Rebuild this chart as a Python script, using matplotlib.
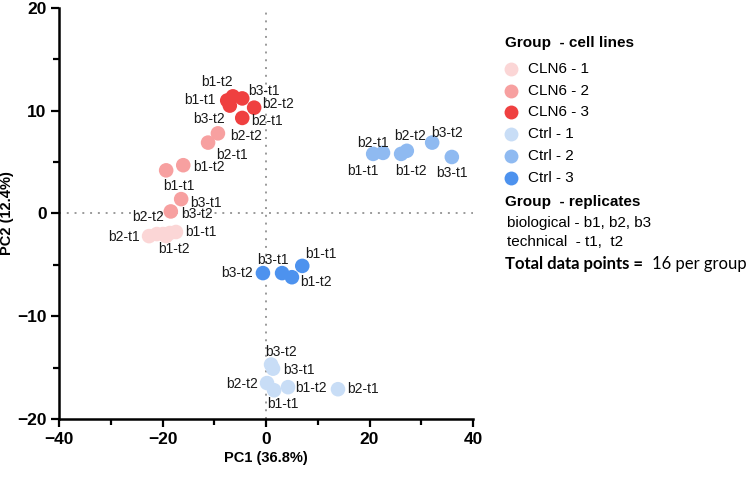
import numpy as np
import matplotlib
matplotlib.use("Agg")
import matplotlib.pyplot as plt
from matplotlib.lines import Line2D
from matplotlib.ticker import MultipleLocator

plt.rcParams['font.family'] = ['Liberation Sans', 'DejaVu Sans']

# group names and colours
groups = ['CLN6 - 1', 'CLN6 - 2', 'CLN6 - 3', 'Ctrl - 1', 'Ctrl - 2', 'Ctrl - 3']
colors = ['#fbd6d6', '#f7a0a0', '#ef4040', '#c8ddf6', '#8fbaf1', '#4d92ee']

# PCA scores (PC1, PC2) with replicate labels
cln6_1_pc1 = [-22.6, -21.1, -19.9, -19.3, -18.6, -17.4]
cln6_1_pc2 = [-2.2, -2.0, -2.0, -2.2, -1.9, -1.8]
cln6_1_lab = ['b2-t1', 'b2-t2', '', '', 'b1-t2', 'b1-t1']

cln6_2_pc1 = [-9.3, -11.2, -16.0, -19.3, -16.4, -18.4]
cln6_2_pc2 = [7.8, 6.9, 4.7, 4.2, 1.4, 0.2]
cln6_2_lab = ['b2-t2', 'b2-t1', 'b1-t2', 'b1-t1', 'b3-t1', 'b3-t2']

cln6_3_pc1 = [-7.5, -6.4, -4.6, -7.0, -2.3, -4.6]
cln6_3_pc2 = [11.0, 11.4, 11.2, 10.5, 10.3, 9.3]
cln6_3_lab = ['b1-t1', 'b1-t2', 'b3-t1', 'b3-t2', 'b2-t2', 'b2-t1']

ctrl_1_pc1 = [0.97, 1.35, 0.19, 1.55, 4.25, 13.9]
ctrl_1_pc2 = [-14.7, -15.1, -16.5, -17.2, -16.9, -17.1]
ctrl_1_lab = ['b3-t2', 'b3-t1', 'b2-t2', 'b1-t1', 'b1-t2', 'b2-t1']

ctrl_2_pc1 = [20.7, 22.6, 26.1, 27.2, 32.1, 35.9]
ctrl_2_pc2 = [5.8, 5.9, 5.8, 6.1, 6.9, 5.5]
ctrl_2_lab = ['b1-t1', 'b2-t1', 'b1-t2', 'b2-t2', 'b3-t2', 'b3-t1']

ctrl_3_pc1 = [-0.6, 3.1, 5.0, 7.0]
ctrl_3_pc2 = [-5.8, -5.8, -6.2, -5.1]
ctrl_3_lab = ['b3-t2', 'b3-t1', 'b1-t2', 'b1-t1']

pc1_all = [cln6_1_pc1, cln6_2_pc1, cln6_3_pc1, ctrl_1_pc1, ctrl_2_pc1, ctrl_3_pc1]
pc2_all = [cln6_1_pc2, cln6_2_pc2, cln6_3_pc2, ctrl_1_pc2, ctrl_2_pc2, ctrl_3_pc2]
lab_all = [cln6_1_lab, cln6_2_lab, cln6_3_lab, ctrl_1_lab, ctrl_2_lab, ctrl_3_lab]

# label placement (pixel offset dx, dy, alignment) for each point
offsets = [
    [(-9, -1, 'right'), (-9, 17, 'center'), None, None, (4, -16, 'center'), (9, 0, 'left')],
    [(12, -3, 'left'), (24, -12, 'center'), (10, -2, 'left'), (13, -16, 'center'), (9, -4, 'left'), (10, -3, 'left')],
    [(-12, 0, 'right'), (-16, 14, 'center'), (6, 7, 'left'), (-5, -13, 'right'), (8, 4, 'left'), (9, -3, 'left')],
    [(10, 13, 'center'), (10, -1, 'left'), (-9, -1, 'right'), (9, -14, 'center'), (7, -1, 'left'), (9, 0, 'left')],
    [(-10, -17, 'center'), (-10, 10, 'center'), (10, -17, 'center'), (3, 15, 'center'), (15, 10, 'center'), (0, -16, 'center')],
    [(-10, 0, 'right'), (-9, 13, 'center'), (8, -5, 'left'), (19, 12, 'center')],
]

fig = plt.figure(figsize=(7.51, 4.78), dpi=100)
ax = fig.add_axes([0.0786, 0.1234, 0.5513, 0.8599])

ax.axhline(0, color='#9a9a9a', lw=1.4, ls=(0, (1, 3)), zorder=1)
ax.axvline(0, color='#9a9a9a', lw=1.4, ls=(0, (1, 3)), zorder=1)

for gi in range(len(groups)):
    ax.scatter(pc1_all[gi], pc2_all[gi], s=110, color=colors[gi], edgecolors='none', zorder=3)
    for j in range(len(pc1_all[gi])):
        if not lab_all[gi][j]:
            continue
        dx, dy, ha = offsets[gi][j]
        ax.annotate(lab_all[gi][j], (pc1_all[gi][j], pc2_all[gi][j]), xytext=(dx, dy),
                    textcoords='offset pixels', ha=ha, va='center', fontsize=10,
                    color='#1a1a1a', zorder=4)

ax.set_xlim(-40, 40)
ax.set_ylim(-20, 20)
ax.xaxis.set_major_locator(MultipleLocator(20))
ax.xaxis.set_minor_locator(MultipleLocator(10))
ax.yaxis.set_major_locator(MultipleLocator(10))
ax.yaxis.set_minor_locator(MultipleLocator(5))
for s in ['top', 'right']:
    ax.spines[s].set_visible(False)
for s in ['left', 'bottom']:
    ax.spines[s].set_linewidth(1.8)
ax.tick_params(which='major', length=6, width=1.6, labelsize=12.5, pad=3)
ax.tick_params(which='minor', length=4, width=1.6)
for t in ax.get_xticklabels() + ax.get_yticklabels():
    t.set_fontweight('bold')

ax.set_xlabel('PC1 (36.8%)', fontsize=10.5, fontweight='bold')
ax.set_ylabel('PC2 (12.4%)', fontsize=10.5, fontweight='bold')
ax.xaxis.set_label_coords(0.5, -0.077)
ax.yaxis.set_label_coords(-0.108, 0.5)

# legend on the right, built by hand
def fx(px):
    return px / 751.0

def fy(py):
    return 1 - py / 478.0

fig.text(fx(505), fy(43), 'Group  - cell lines', fontsize=11, fontweight='bold', va='center')
entry_y = [69, 91, 112, 134, 156, 178]
for gi in range(len(groups)):
    fig.add_artist(Line2D([fx(511)], [fy(entry_y[gi])], marker='o', ms=10, color=colors[gi],
                          mec='none', ls='none', transform=fig.transFigure))
    fig.text(fx(528), fy(entry_y[gi]), groups[gi], fontsize=11, va='center')

fig.text(fx(505), fy(202), 'Group  - replicates', fontsize=11, fontweight='bold', va='center')
fig.text(fx(507), fy(223), 'biological - b1, b2, b3', fontsize=11, va='center')
fig.text(fx(507), fy(242), 'technical  - t1,  t2', fontsize=11, va='center')
fig.text(fx(505), fy(264), 'Total data points =', fontsize=12, fontweight='bold', va='center', family='Lato')
fig.text(fx(652), fy(264), '16 per group', fontsize=12, va='center', family='Lato')

fig.savefig('out.png', dpi=100)
